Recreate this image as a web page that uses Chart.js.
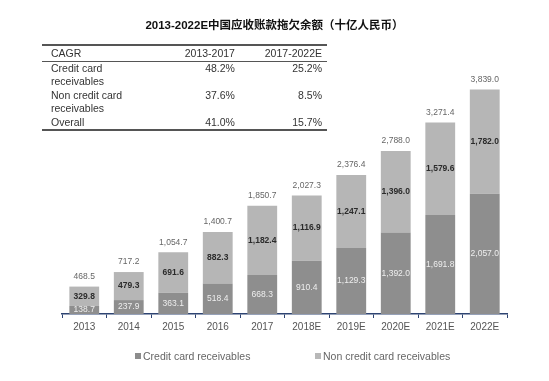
<!DOCTYPE html>
<html>
<head>
<meta charset="utf-8">
<script src="https://cdn.jsdelivr.net/npm/chart.js@4"></script>
<style>
  body { margin: 0; background: #fff; }
  .wrap { position: relative; width: 549px; height: 381px; font-family: "Liberation Sans", Arial, sans-serif; }
  .title { position: absolute; left: 0; top: 16px; width: 549px; text-align: center; font: bold 11.5px "Liberation Sans", "Noto Sans CJK SC", sans-serif; color: #111; }
  table.cagr { position: absolute; left: 42px; top: 44px; width: 285px; border-collapse: collapse; font-size: 10.5px; color: #333; }
  table.cagr td { padding: 0; line-height: 13.5px; vertical-align: top; }
  table.cagr tr.head td { border-top: 2px solid #555; border-bottom: 1px solid #555; padding-top: 1px; }
  table.cagr tr.last td { border-bottom: 2px solid #555; }
  table.cagr td.num { text-align: right; }
  table.cagr td.lab { padding-left: 9px; }
  table.cagr td.c3 { padding-right: 5px; }
  .legend { position: absolute; top: 350px; left: 0; width: 549px; font-size: 10.5px; color: #666; }
  .legend span { position: absolute; white-space: nowrap; }
  .legend i { display: inline-block; width: 6px; height: 6px; margin-right: 2px; vertical-align: 1px; }
</style>
</head>
<body>
<div class="wrap">
  <div class="title">2013-2022E中国应收账款拖欠余额（十亿人民币）</div>
  <table class="cagr">
    <tr class="head"><td class="lab">CAGR</td><td class="num">2013-2017</td><td class="num c3">2017-2022E</td></tr>
    <tr><td class="lab">Credit card<br>receivables</td><td class="num">48.2%</td><td class="num c3">25.2%</td></tr>
    <tr><td class="lab">Non credit card<br>receivables</td><td class="num">37.6%</td><td class="num c3">8.5%</td></tr>
    <tr class="last"><td class="lab">Overall</td><td class="num">41.0%</td><td class="num c3">15.7%</td></tr>
  </table>
  <canvas id="chart" width="549" height="381"></canvas>
  <div class="legend">
    <span style="left:135px"><i style="background:#8c8c8c"></i>Credit card receivables</span>
    <span style="left:315px"><i style="background:#b8b8b8"></i>Non credit card receivables</span>
  </div>
</div>
<script>
const years = ["2013", "2014", "2015", "2016", "2017", "2018E", "2019E", "2020E", "2021E", "2022E"]
const creditCard = [138.7, 237.9, 363.1, 518.4, 668.3, 910.4, 1129.3, 1392.0, 1691.8, 2057.0]
const nonCreditCard = [329.8, 479.3, 691.6, 882.3, 1182.4, 1116.9, 1247.1, 1396.0, 1579.6, 1782.0]
const totals = [468.5, 717.2, 1054.7, 1400.7, 1850.7, 2027.3, 2376.4, 2788.0, 3271.4, 3839.0]

const fmt = (v) => v.toLocaleString("en-US", { minimumFractionDigits: 1, maximumFractionDigits: 1 })

// value labels inside segments and totals above bars
const valueLabels = {
  id: "valueLabels",
  afterDatasetsDraw(chart) {
    const ctx = chart.ctx
    ctx.save()
    ctx.textAlign = "center"
    ctx.textBaseline = "middle"
    chart.data.datasets.forEach((ds, i) => {
      ctx.fillStyle = i === 0 ? "#eeeeee" : "#2b2b2b"
      ctx.font = i === 0 ? "8.5px 'Liberation Sans', Arial" : "bold 8.5px 'Liberation Sans', Arial"
      chart.getDatasetMeta(i).data.forEach((bar, j) => {
        ctx.fillText(fmt(ds.data[j]), bar.x, (bar.y + bar.base) / 2)
      })
    })
    ctx.fillStyle = "#666"
    ctx.font = "8.5px 'Liberation Sans', Arial"
    chart.getDatasetMeta(1).data.forEach((bar, j) => {
      ctx.fillText(fmt(totals[j]), bar.x, bar.y - 10)
    })
    ctx.restore()
  },
}

new Chart(document.getElementById("chart"), {
  type: "bar",
  data: {
    labels: years,
    datasets: [
      { label: "Credit card receivables", data: creditCard, backgroundColor: "#8e8e8e", categoryPercentage: 1, barPercentage: 0.67 },
      { label: "Non credit card receivables", data: nonCreditCard, backgroundColor: "#b6b6b6", categoryPercentage: 1, barPercentage: 0.67 },
    ],
  },
  options: {
    responsive: false,
    animation: false,
    layout: { padding: { left: 62, right: 42, top: 80, bottom: 45 } },
    plugins: { legend: { display: false }, tooltip: { enabled: false } },
    scales: {
      x: {
        stacked: true,
        border: { display: true, color: "#2e4472", width: 1.5 },
        grid: { drawOnChartArea: false, drawTicks: true, tickLength: 4, color: "#2e4472" },
        ticks: { color: "#555", font: { size: 10, family: "'Liberation Sans', Arial" }, padding: 3 },
      },
      y: { stacked: true, display: false, min: 0, max: 4000 },
    },
  },
  plugins: [valueLabels],
})
</script>
</body>
</html>
